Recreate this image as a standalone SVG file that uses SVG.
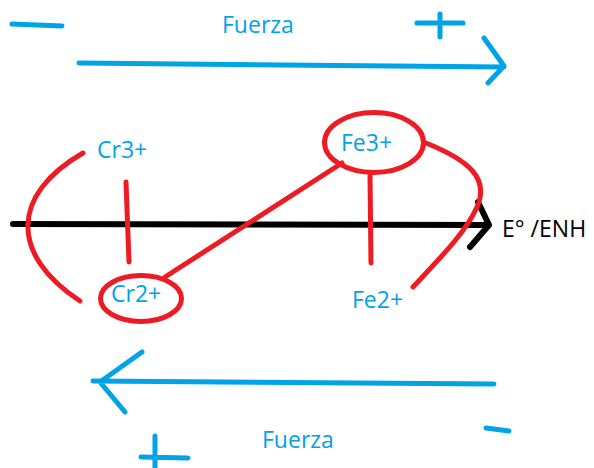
<svg xmlns="http://www.w3.org/2000/svg" width="594" height="468" viewBox="0 0 594 468">
<style>
.b{stroke:#00a2e8;stroke-width:5;fill:none;stroke-linecap:round;stroke-linejoin:round}
.r{stroke:#ed1c24;stroke-width:5;fill:none;stroke-linecap:round;stroke-linejoin:round}
.k{stroke:#000;stroke-width:6;fill:none;stroke-linecap:round;stroke-linejoin:round}
.t{font-family:"Open Sans","Noto Sans","Liberation Sans",sans-serif;font-size:23px;fill:#00a2e8}
.tk{font-family:"Open Sans","Noto Sans","Liberation Sans",sans-serif;font-size:23px;fill:#000}
</style>
<rect width="594" height="468" fill="#fff"/>
<g id="connectors">
<path class="b" d="M12,24 L62,26"/>
<path class="b" d="M417,23 L463,23 M440,14 L440,37"/>
<path class="b" d="M79,63 L504,67 M484,38 L504,66 L488,83"/>
<path class="b" d="M494,384 L93,381 M142,352 L100,382 L125,412"/>
<path class="b" d="M141,457 L188,458 M155,436 L155,470"/>
<path class="b" d="M486,428 L509,431"/>
<path class="k" d="M13,224 L489,225 M478,202 L489,225 L470,247"/>
<path class="r" d="M83,153 C10,195 10,255 80,301"/>
<path class="r" d="M126,182 L129,262"/>
<path class="r" d="M165,277 L342,163"/>
<path class="r" d="M370,175 L371,263"/>
<path class="r" d="M426,143 C468,160 490,178 477,207 C466,232 440,258 413,287"/>
</g>
<g id="fuerza-top"><text class="t" x="222" y="33">Fuerza</text></g>
<g id="fuerza-bottom"><text class="t" x="262" y="448">Fuerza</text></g>
<g id="cr3"><text class="t" x="97" y="158">Cr3+</text></g>
<g id="cr2"><ellipse class="r" cx="141" cy="298.5" rx="40.5" ry="23"/><text class="t" x="111" y="302">Cr2+</text></g>
<g id="fe3"><ellipse class="r" cx="374" cy="142.5" rx="49.5" ry="30"/><text class="t" x="341" y="151">Fe3+</text></g>
<g id="fe2"><text class="t" x="352" y="308">Fe2+</text></g>
<g id="axis-label"><text class="tk" x="502" y="237">E° /ENH</text></g>
</svg>
